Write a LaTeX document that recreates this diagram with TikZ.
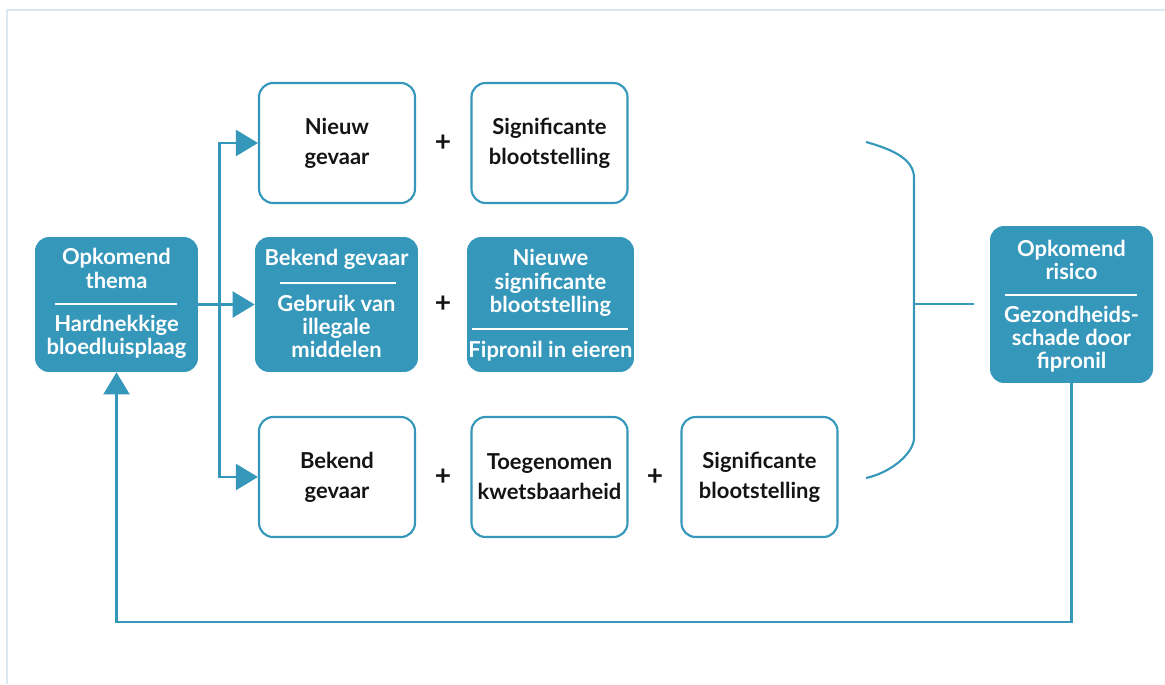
\documentclass[tikz,border=0pt]{standalone}
\usepackage{fontspec}
\setmainfont{Lato}
\usetikzlibrary{arrows.meta}
\definecolor{teal}{RGB}{53,151,186}
\definecolor{framegrey}{RGB}{220,232,240}
\definecolor{ink}{RGB}{20,20,20}
\begin{document}
\begin{tikzpicture}[x=0.02cm,y=-0.02cm,
    outbox/.style={draw=teal,line width=1.2pt,fill=white,rounded corners=0.28cm,
        minimum width=3.12cm,minimum height=2.4cm,align=center,text=ink,
        font=\fontsize{12.5}{17}\selectfont\bfseries},
    fillbox/.style={fill=teal,rounded corners=0.28cm,minimum width=3.26cm,minimum height=2.7cm},
    wtext/.style={align=center,text=white,inner sep=0pt,font=\fontsize{12.5}{13.2}\selectfont\bfseries},
    divider/.style={white,line width=0.7pt},
    plus/.style={text=ink,font=\fontsize{16}{16}\selectfont\bfseries},
    link/.style={teal,line width=1.2pt},
    arr/.style={link,-{Triangle[length=0.44cm,width=0.52cm]}}]
                \useasboundingbox (0,0) rectangle (1165,684);
                \draw[framegrey,line width=0.8pt] (7,684) -- (7,10) -- (1165,10);
                %% left
                \node[fillbox] (thema) at (116.5,304.5) {};
                \node[wtext] (thema-a) at (116.5,268.5) {Opkomend\\thema};
                \draw[divider] (55,304) -- (177,304);
                \node[wtext] (thema-b) at (116.5,336.5) {Hardnekkige\\bloedluisplaag};
                %% top row
                \node[outbox] (nieuw) at (337,143) {Nieuw\\gevaar};
                \node[plus] (p1) at (443,143) {+};
                \node[outbox] (sig1) at (549.5,143) {Significante\\blootstelling};
                %% middle row
                \node[fillbox] (bekend) at (336.5,304.5) {};
                \node[wtext] (bekend-a) at (336.5,259.5) {Bekend gevaar};
                \draw[divider] (280,283) -- (396,283);
                \node[wtext] (bekend-b) at (336.5,326.5) {Gebruik van\\illegale\\middelen};
                \node[plus] (p2) at (443,304) {+};
                \node[fillbox,minimum width=3.34cm] (nieuwe) at (550.5,304.5) {};
                \node[wtext] (nieuwe-a) at (550.5,283) {Nieuwe\\significante\\blootstelling};
                \draw[divider] (472,329) -- (628,329);
                \node[wtext] (nieuwe-b) at (550.5,351) {Fipronil in eieren};
                %% bottom row
                \node[outbox] (bekend2) at (337,477) {Bekend\\gevaar};
                \node[plus] (p3) at (443,477) {+};
                \node[outbox] (toeg) at (549.5,477) {Toegenomen\\kwetsbaarheid};
                \node[plus] (p4) at (655,477) {+};
                \node[outbox] (sig2) at (759.5,477) {Significante\\blootstelling};
                %% right
                \node[fillbox,minimum height=3.14cm] (risico) at (1071.5,304.5) {};
                \node[wtext] (risico-a) at (1071.5,260) {Opkomend\\risico};
                \draw[divider] (1005,295) -- (1137,295);
                \node[wtext] (risico-b) at (1071.5,339) {Gezondheids-\\schade door\\fipronil};
                %% arrows
                \coordinate (fork) at (219.5,304);
                \draw[arr] (thema.east) -- (bekend.west);
                \draw[arr] (fork) |- (nieuw.west);
                \draw[arr] (fork) |- (bekend2.west);
                %% brace
                \coordinate (brace-top) at (866,142);
                \coordinate (brace-bot) at (866,478);
                \coordinate (brace-tip) at (974,304);
                \draw[link] (brace-top) .. controls (895,150) and (914,160) .. (914,178)
                    -- (914,438) .. controls (914,452) and (893,472) .. (brace-bot);
                \draw[link] (914,304) -- (brace-tip);
                %% back to P
                \coordinate (loop) at (1071.5,622);
                \draw[arr] (risico.south) -- (loop) -| (thema.south);
            \end{tikzpicture}
\end{document}
